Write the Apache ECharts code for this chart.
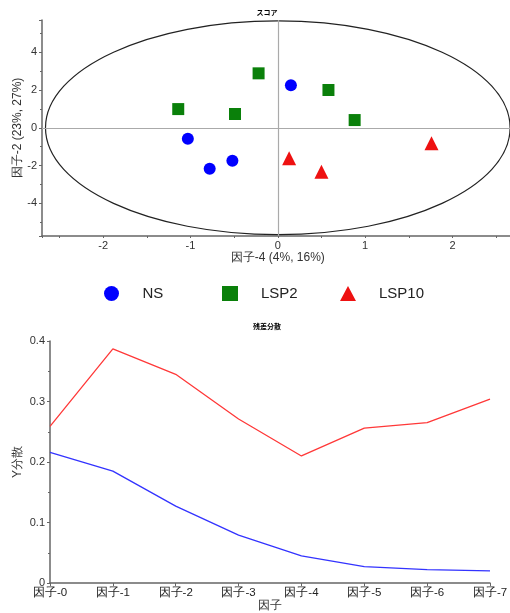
<!DOCTYPE html>
<html><head><meta charset="utf-8">
<script src="https://cdn.jsdelivr.net/npm/echarts@6/dist/echarts.min.js"></script>
<style>html,body{margin:0;padding:0;background:#fff}#c{width:510px;height:613px}</style>
</head><body><div id="c"></div>
<script>
// Score plot data
const nsPoints = [[0.15, 2.25], [-1.03, -0.58], [-0.78, -2.16], [-0.52, -1.74]];
const lsp2Points = [[-1.14, 0.99], [-0.22, 2.88], [-0.49, 0.73], [0.58, 2.0], [0.88, 0.41]];
const lsp10Points = [[0.13, -1.61], [0.50, -2.32], [1.76, -0.82]];
const ellipse = [[0, 0, 2.66, 5.65]]; // center x, center y, semi-axis x, semi-axis y
const seriesNames = ['NS', 'LSP2', 'LSP10'];
const seriesIcons = ['circle', 'rect', 'triangle'];
// Variance plot data
const factorLabels = ['因子-0', '因子-1', '因子-2', '因子-3', '因子-4', '因子-5', '因子-6', '因子-7'];
const calVariance = [0.216, 0.185, 0.127, 0.079, 0.045, 0.027, 0.022, 0.020];
const valVariance = [0.259, 0.387, 0.345, 0.271, 0.210, 0.256, 0.265, 0.304];

const chart = echarts.init(document.getElementById('c'));
const font = 'Liberation Sans, Arial, sans-serif';
const axisCol = '#666';
const legendLefts = [104, 222, 340];
chart.setOption({
  animation: false,
  title: [
    {text: 'スコア', left: 262, top: 4, textAlign: 'center', textStyle: {fontSize: 7, fontWeight: 'bold', color: '#000', fontFamily: 'Noto Sans CJK JP'}},
    {text: '残差分散', left: 262, top: 318, textAlign: 'center', textStyle: {fontSize: 7, fontWeight: 'bold', color: '#000', fontFamily: 'Noto Sans CJK JP'}}
  ],
  legend: seriesNames.map((n, i) => ({
    data: [{name: n, icon: seriesIcons[i]}],
    left: legendLefts[i], top: 286, itemWidth: 16, itemHeight: 15, padding: 0,
    textStyle: {fontSize: 15, color: '#222', fontFamily: font, padding: [0, 0, 0, 18]}
  })),
  grid: [
    {left: 42, top: 20, width: 471.6, height: 216, outerBoundsMode: 'none', containLabel: false},
    {left: 50, top: 341, width: 440, height: 242, outerBoundsMode: 'none', containLabel: false}
  ],
  xAxis: [
    {type: 'value', gridIndex: 0, min: -2.7, max: 2.7, splitNumber: 5,
     name: '因子-4 (4%, 16%)', nameLocation: 'middle', nameGap: 16, nameMoveOverlap: false,
     nameTextStyle: {fontSize: 12, color: '#333', fontFamily: font},
     axisLine: {onZero: false, lineStyle: {color: axisCol, width: 1.5}},
     axisTick: {show: true, length: 2, lineStyle: {color: axisCol}},
     minorTick: {show: true, splitNumber: 2, length: 2, lineStyle: {color: axisCol}},
     splitLine: {show: false},
     axisLabel: {fontSize: 11, color: '#333', margin: 4, fontFamily: font, showMinLabel: false, showMaxLabel: false}},
    {type: 'category', gridIndex: 1, data: factorLabels, boundaryGap: false,
     name: '因子', nameLocation: 'middle', nameGap: 17, nameMoveOverlap: false,
     nameTextStyle: {fontSize: 12, color: '#333', fontFamily: font},
     axisLine: {lineStyle: {color: axisCol, width: 1.5}},
     axisTick: {show: true, length: 3, lineStyle: {color: axisCol}},
     axisLabel: {fontSize: 11.5, color: '#222', margin: 4, fontFamily: font, interval: 0}}
  ],
  yAxis: [
    {type: 'value', gridIndex: 0, min: -5.72, max: 5.70, splitNumber: 5,
     name: '因子-2 (23%, 27%)', nameLocation: 'middle', nameGap: 18, nameMoveOverlap: false,
     nameTextStyle: {fontSize: 12, color: '#333', fontFamily: font},
     axisLine: {show: true, onZero: false, lineStyle: {color: axisCol, width: 1.5}},
     axisTick: {show: true, length: 3, lineStyle: {color: axisCol}},
     minorTick: {show: true, splitNumber: 2, length: 2, lineStyle: {color: axisCol}},
     splitLine: {show: false},
     axisLabel: {fontSize: 11, color: '#333', margin: 5, fontFamily: font, showMinLabel: false, showMaxLabel: false}},
    {type: 'value', gridIndex: 1, min: 0, max: 0.4, interval: 0.1,
     name: 'Y分散', nameLocation: 'middle', nameGap: 26, nameMoveOverlap: false,
     nameTextStyle: {fontSize: 12, color: '#333', fontFamily: font},
     axisLine: {show: true, lineStyle: {color: axisCol, width: 1.5}},
     axisTick: {show: true, length: 3, lineStyle: {color: axisCol}},
     minorTick: {show: true, splitNumber: 2, length: 2, lineStyle: {color: axisCol}},
     splitLine: {show: false},
     axisLabel: {fontSize: 11, color: '#333', margin: 5, fontFamily: font}}
  ],
  series: [
    {type: 'custom', xAxisIndex: 0, yAxisIndex: 0, data: ellipse, silent: true, z: 1,
     clip: false,
     renderItem: function (params, api) {
       const c = api.coord([api.value(0), api.value(1)]);
       const s = api.size([api.value(2), api.value(3)]);
       return {type: 'ellipse', shape: {cx: c[0], cy: c[1], rx: s[0], ry: s[1]},
               style: {fill: null, stroke: '#222', lineWidth: 1.2}};
     }},
    {type: 'line', xAxisIndex: 0, yAxisIndex: 0, data: [], silent: true,
     markLine: {silent: true, symbol: 'none', label: {show: false},
       lineStyle: {color: '#aaa', type: 'solid', width: 1.2},
       data: [{xAxis: 0}, {yAxis: 0}]}},
    {name: seriesNames[0], type: 'scatter', xAxisIndex: 0, yAxisIndex: 0, data: nsPoints,
     symbol: 'circle', symbolSize: 12, itemStyle: {color: '#0000ff', opacity: 1}, z: 3},
    {name: seriesNames[1], type: 'scatter', xAxisIndex: 0, yAxisIndex: 0, data: lsp2Points,
     symbol: 'rect', symbolSize: 12, itemStyle: {color: '#0a800a', opacity: 1}, z: 3},
    {name: seriesNames[2], type: 'scatter', xAxisIndex: 0, yAxisIndex: 0, data: lsp10Points,
     symbol: 'triangle', symbolSize: 14, itemStyle: {color: '#ee1111', opacity: 1}, z: 3},
    {type: 'line', xAxisIndex: 1, yAxisIndex: 1, data: calVariance, showSymbol: false,
     lineStyle: {color: '#3333ff', width: 1.3}, itemStyle: {color: '#3333ff'}},
    {type: 'line', xAxisIndex: 1, yAxisIndex: 1, data: valVariance, showSymbol: false,
     lineStyle: {color: '#ff3838', width: 1.3}, itemStyle: {color: '#ff3838'}}
  ]
});
</script></body></html>
